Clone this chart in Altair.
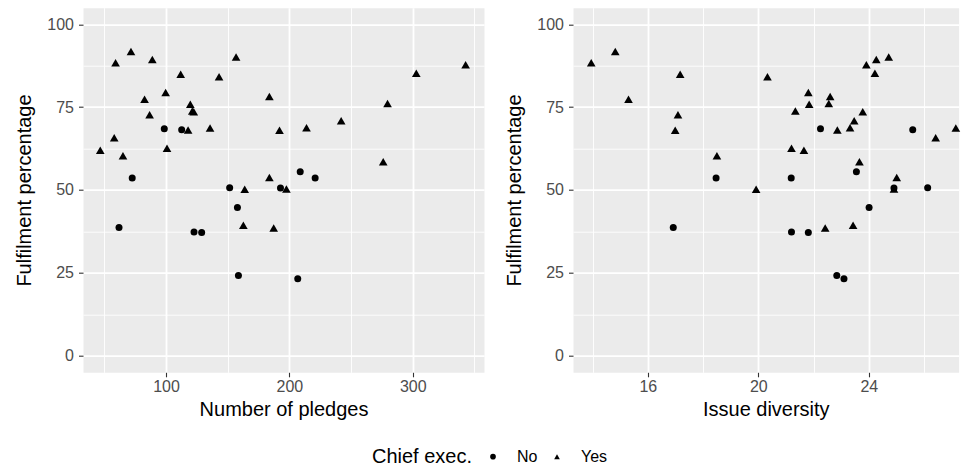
import altair as alt
import pandas as pd

pledges = [59.1, 71.6, 82.6, 111.9, 86.7, 192.0, 65.1, 163.8, 197.6, 143.0,
           99.7, 119.7, 279.6, 121.3, 122.5, 183.8, 117.9, 213.9, 135.7, 242.0,
           100.8, 46.7, 276.1, 342.9, 88.9, 156.8, 302.9, 58.0, 183.8, 187.3, 162.7,
           72.6, 220.9, 61.9, 98.6, 208.8, 112.7, 192.8, 151.6, 122.7, 128.9,
           157.9, 158.7, 206.8]
diversity = [13.95, 14.82, 15.30, 17.17, 17.09, 16.99, 18.50, 19.92, 24.91, 20.33,
             21.81, 21.84, 22.55, 21.34, 23.78, 22.60, 22.86, 23.32, 27.15, 23.47,
             21.20, 21.65, 23.66, 23.91, 24.27, 24.72, 24.22, 26.42, 25.01, 22.42, 23.43,
             18.47, 21.19, 16.92, 22.25, 23.55, 25.59, 24.91, 26.13, 21.20, 21.81,
             24.01, 22.84, 23.10]
fulfilment = [88.4, 91.8, 77.4, 84.9, 72.7, 68.0, 60.3, 50.2, 50.3, 84.2,
              79.4, 75.9, 76.1, 73.8, 73.6, 78.2, 68.1, 68.8, 68.7, 70.9,
              62.6, 62.0, 58.5, 87.8, 89.4, 90.1, 85.2, 65.8, 53.8, 38.5, 39.4,
              53.6, 53.6, 38.7, 68.5, 55.5, 68.2, 50.6, 50.7, 37.3, 37.2,
              44.7, 24.2, 23.2]
chief = ["Yes"] * 31 + ["No"] * 13

categories = ["No", "Yes"]
y_ticks = [0, 12.5, 25, 37.5, 50, 62.5, 75, 87.5, 100]
x1_ticks = [50, 100, 150, 200, 250, 300, 350]
x2_ticks = [14, 16, 18, 20, 22, 24, 26]

df = pd.DataFrame({"pledges": pledges, "diversity": diversity,
                   "fulfilment": fulfilment, "chief": chief})

FONT = "Liberation Sans"
GRID_MAJOR = 1.8
GRID_MINOR = 0.9


def make_axis(values, minor_test, title_pad):
    return alt.Axis(
        values=values,
        labelExpr=f"({minor_test}) ? '' : datum.label",
        tickOpacity={"condition": {"test": minor_test, "value": 0}, "value": 1},
        gridWidth={"condition": {"test": minor_test, "value": GRID_MINOR}, "value": GRID_MAJOR},
        titlePadding=title_pad,
    )


y_axis = make_axis(y_ticks, "datum.value % 25 !== 0", 12)
x1_axis = make_axis(x1_ticks, "datum.value % 100 !== 0", 5)
x2_axis = make_axis(x2_ticks, "datum.value % 4 !== 0", 5)

shape_scale = alt.Scale(domain=categories, range=["circle", "triangle-up"])

legend = alt.Legend(
    title="Chief exec.", orient="none", legendX=289, legendY=441,
    direction="horizontal", titleOrient="left",
    titleFont=FONT, titleFontSize=20, titleFontWeight="normal", titleColor="black",
    titlePadding=12,
    labelFont=FONT, labelFontSize=16, labelColor="black", labelOffset=16,
    symbolSize=32, symbolFillColor="black", symbolStrokeColor="black",
    columnPadding=11,
)

y_enc = alt.Y("fulfilment:Q", title="Fulfilment percentage",
              scale=alt.Scale(domain=[-5, 105], nice=False, zero=False), axis=y_axis)
shape_enc = alt.Shape("chief:N", scale=shape_scale, legend=legend)


def panel(xfield, xtitle, xdomain, xaxis, width):
    x_enc = alt.X(f"{xfield}:Q", title=xtitle,
                  scale=alt.Scale(domain=xdomain, nice=False, zero=False), axis=xaxis)
    base = alt.Chart(df).encode(x=x_enc, y=y_enc, shape=shape_enc)
    no_layer = base.transform_filter(alt.datum.chief == "No").mark_point(
        filled=True, opacity=1, color="black", size=49)
    yes_layer = base.transform_filter(alt.datum.chief == "Yes").mark_point(
        filled=True, opacity=1, color="black", size=75)
    return alt.layer(yes_layer, no_layer).properties(width=width, height=364.6)


left = panel("pledges", "Number of pledges", [32.7, 357.8], x1_axis, 401)
right = panel("diversity", "Issue diversity", [13.29, 27.25], x2_axis, 385.6)

chart = alt.hconcat(left, right, spacing=20).properties(
    padding={"left": 14, "top": 7.7, "right": 0, "bottom": 0},
    background="white",
).configure_view(
    fill="#EBEBEB", strokeOpacity=0,
).configure_axis(
    domain=False, grid=True, gridColor="white", gridOpacity=1,
    tickColor="#333333", tickSize=4.5, tickWidth=1.1,
    labelFont=FONT, labelFontSize=16, labelColor="#4D4D4D", labelPadding=4,
    titleFont=FONT, titleFontSize=20, titleFontWeight="normal", titleColor="black",
).configure_axisY(
    labelPadding=5,
).configure_axisX(
    labelPadding=2,
)

chart.save("out.html", embed_options={"renderer": "svg", "actions": False})
